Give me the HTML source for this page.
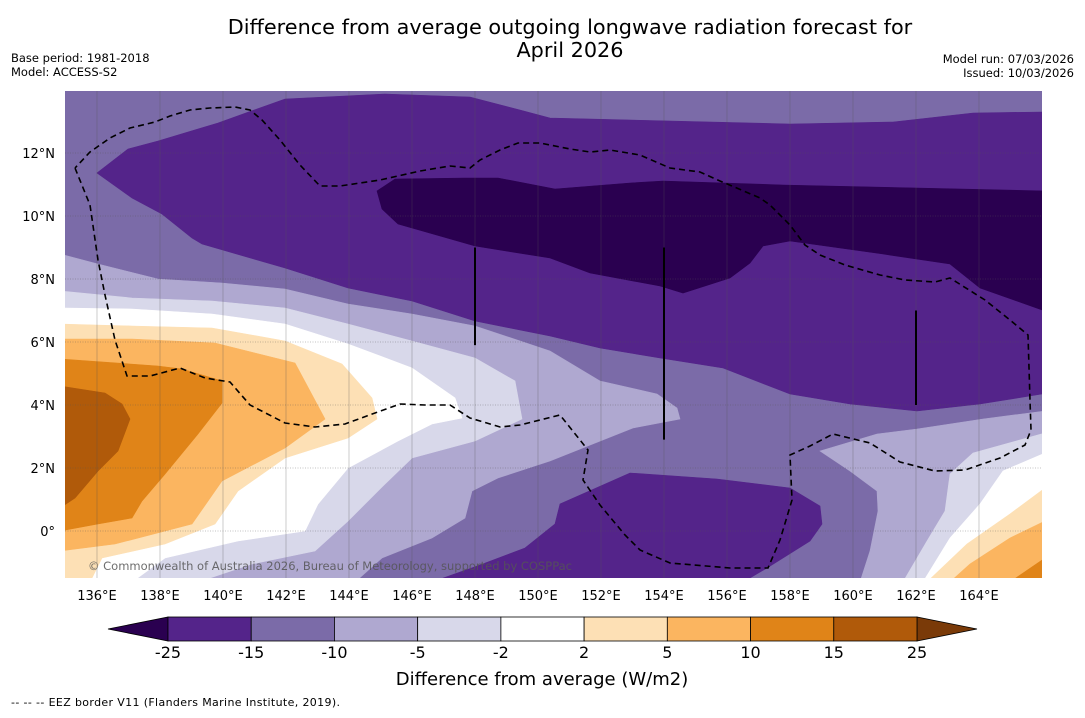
<!DOCTYPE html>
<html><head><meta charset="utf-8"><style>
html,body{margin:0;padding:0;background:#fff;}
body{width:1085px;height:713px;overflow:hidden;font-family:"Liberation Sans","DejaVu Sans",sans-serif;}
svg text{font-family:"DejaVu Sans","Liberation Sans",sans-serif;}
</style></head><body>
<svg id="chart" width="1085" height="713" viewBox="0 0 1085 713" xmlns="http://www.w3.org/2000/svg">
<text x="570" y="34" font-size="20.8" text-anchor="middle" fill="#000">Difference from average outgoing longwave radiation forecast for</text>
<text x="570" y="57" font-size="20.8" text-anchor="middle" fill="#000">April 2026</text>
<text x="11" y="62" font-size="11.5">Base period: 1981-2018</text>
<text x="11" y="76" font-size="11.5">Model: ACCESS-S2</text>
<text x="1074" y="63" font-size="11.5" text-anchor="end">Model run: 07/03/2026</text>
<text x="1074" y="77" font-size="11.5" text-anchor="end">Issued: 10/03/2026</text>
<defs><clipPath id="pc"><rect x="65" y="91" width="977" height="487"/></clipPath></defs>
<g id="plot" clip-path="url(#pc)"></g>
<g id="axes"></g>
<g id="cbar"></g>
<text x="542" y="685" font-size="18" text-anchor="middle">Difference from average (W/m2)</text>
<text x="11" y="706" font-size="11" textLength="329">--  --  -- EEZ border V11 (Flanders Marine Institute, 2019).</text>
</svg>
<script>
// axis ranges
const lonTicks = [136,138,140,142,144,146,148,150,152,154,156,158,160,162,164];
const latTicks = [0,2,4,6,8,10,12];
const levels = [-25,-15,-10,-5,-2,2,5,10,15,25];
const levelColors = ['#54248a','#7b6ba8','#afa8d0','#d8d8ea','#ffffff','#fde0b5','#fbb560','#e08418','#b05a0a'];
const underColor = '#2a0050', overColor = '#7a3a08';
// digitized contour regions (image-space vertices converted to lon/lat below)
const regionBase = [[65,91],[1042,91],[1042,578],[65,578]];
const regionLe15Top = [[97,173],[128,149],[158,141],[218,123],[285,99],[385,94],[470,97],[520,110],[550,118],[790,124],[893,122],[973,113],[1042,112],[1045,112],[1045,394],[1042,394],[980,404],[917,411],[850,404],[790,394],[723,368],[660,358],[600,348],[550,336],[475,321],[412,301],[348,288],[285,268],[202,244],[192,238],[162,214],[132,198]];
const regionLe15Bottom = [[432,582],[480,565],[525,548],[555,524],[560,504],[630,473],[717,479],[790,488],[820,506],[822,524],[810,541],[767,568],[743,582]];
const regionLe25 = [[377,191],[395,179],[465,178],[498,178],[555,189],[630,183],[663,181],[783,185],[917,188],[1045,191],[1045,311],[980,288],[950,264],[883,254],[790,241],[763,246],[750,263],[730,278],[683,293],[660,286],[590,273],[550,258],[475,246],[398,224],[382,209]];
const regionGe10Left = [[60,254],[98,264],[158,279],[222,283],[285,289],[348,304],[412,314],[475,326],[550,351],[600,381],[657,394],[677,408],[680,419],[633,428],[550,461],[498,478],[472,491],[465,518],[432,538],[382,558],[355,582],[60,582]];
const regionGe10Right = [[820,451],[877,434],[917,429],[983,419],[1045,411],[1045,582],[860,582],[870,551],[878,511],[877,491],[850,471]];
const regionGe5Left = [[60,291],[132,298],[212,301],[285,308],[348,324],[412,341],[475,358],[515,381],[522,419],[475,441],[412,458],[385,484],[348,521],[315,551],[252,564],[198,582],[60,582]];
const regionGe5Right = [[1045,433],[973,453],[950,474],[945,511],[927,541],[903,582],[1045,582]];
const regionGe2Left = [[60,308],[132,309],[212,314],[285,324],[348,344],[412,368],[455,398],[462,418],[432,424],[398,441],[348,468],[318,504],[305,531],[238,541],[165,558],[132,582],[60,582]];
const regionGe2Right = [[1045,453],[1003,471],[980,504],[950,538],[923,582],[1045,582]];
const regionP2Left = [[60,324],[132,326],[212,328],[285,341],[342,364],[372,398],[377,419],[348,438],[285,458],[238,491],[215,524],[165,544],[102,558],[90,582],[60,582]];
const regionP2Right = [[1045,488],[1010,514],[967,544],[927,582],[1045,582]];
const regionP5Left = [[60,339],[132,339],[215,343],[295,363],[325,419],[285,448],[222,481],[192,524],[115,544],[60,551]];
const regionP5Right = [[1045,521],[1010,538],[970,564],[950,582],[1045,582]];
const regionP10Left = [[60,359],[158,366],[182,369],[222,381],[222,403],[198,434],[165,474],[142,501],[132,518],[98,524],[60,531]];
const regionP10Right = [[1045,558],[1010,582],[1045,582]];
const regionP15Left = [[60,386],[105,393],[122,404],[130,419],[118,451],[98,471],[75,498],[60,508]];
const eezBorder = [[75,168],[90,205],[98,260],[105,295],[115,340],[127,376],[150,376],[180,368],[205,378],[230,382],[250,405],[285,423],[315,427],[345,424],[375,413],[400,404],[425,405],[450,405],[470,418],[500,427],[520,425],[560,415],[580,440],[588,450],[583,480],[600,505],[625,535],[640,550],[670,563],[730,568],[768,568],[780,540],[792,500],[790,455],[810,446],[833,434],[870,443],[900,462],[935,471],[965,470],[1000,458],[1025,445],[1031,430],[1030,400],[1028,335],[1010,320],[985,300],[950,278],[935,282],[905,280],[880,275],[845,265],[820,255],[805,245],[790,225],[770,205],[760,198],[732,186],[720,181],[700,172],[670,168],[640,155],[610,150],[590,152],[570,149],[540,143],[518,143],[500,150],[480,160],[470,168],[450,166],[420,171],[380,180],[340,186],[320,186],[300,165],[280,140],[262,120],[250,110],[235,107],[210,108],[190,110],[170,116],[155,122],[130,128],[110,138],[90,152],[75,168]];
const stripeLines = [[148,9.0,5.9],[154,9.0,2.9],[162,7.0,4.0]];

const NS='http://www.w3.org/2000/svg';
const X0=65,X1=1042,Y0=91,Y1=578;
function xScale(lon){return 97+(lon-136)*31.5;}
function yScale(lat){return 531-lat*31.5;}
function toGeo(p){return [136+(p[0]-97)/31.5,(531-p[1])/31.5];}
function mk(tag,attrs,parent){const e=document.createElementNS(NS,tag);for(const k in attrs)e.setAttribute(k,attrs[k]);parent.appendChild(e);return e;}
function pathOf(pts,close){return pts.map(toGeo).map((g,i)=>(i?'L':'M')+xScale(g[0]).toFixed(1)+' '+yScale(g[1]).toFixed(1)).join(' ')+(close?'Z':'');}
const plot=document.getElementById('plot');
const fills=[[regionBase,'#7b6ba8','region-minus15-to-minus10'],[regionLe15Top,'#54248a','region-below-minus15-north'],[regionLe15Bottom,'#54248a','region-below-minus15-south'],[regionLe25,underColor,'region-below-minus25'],
[regionGe10Left,'#afa8d0','region-minus10-to-minus5-west'],[regionGe10Right,'#afa8d0','region-minus10-to-minus5-east'],[regionGe5Left,'#d8d8ea','region-minus5-to-minus2-west'],[regionGe5Right,'#d8d8ea','region-minus5-to-minus2-east'],
[regionGe2Left,'#ffffff','region-near-zero-west'],[regionGe2Right,'#ffffff','region-near-zero-east'],[regionP2Left,'#fde0b5','region-2-to-5-west'],[regionP2Right,'#fde0b5','region-2-to-5-east'],
[regionP5Left,'#fbb560','region-5-to-10-west'],[regionP5Right,'#fbb560','region-5-to-10-east'],[regionP10Left,'#e08418','region-10-to-15-west'],[regionP10Right,'#e08418','region-10-to-15-east'],[regionP15Left,'#b05a0a','region-15-to-25-west']];
fills.forEach(f=>{const e=mk('path',{d:pathOf(f[0],true),fill:f[1],stroke:f[1],'stroke-width':0.6},plot);

});
// gridlines
lonTicks.forEach(l=>{const e=mk('line',{x1:xScale(l),x2:xScale(l),y1:Y0,y2:Y1,stroke:'#555','stroke-width':0.6,'stroke-opacity':0.5},plot);

});
latTicks.forEach(l=>{const e=mk('line',{x1:X0,x2:X1,y1:yScale(l),y2:yScale(l),stroke:'#555','stroke-width':0.6,'stroke-dasharray':'1 1.5','stroke-opacity':0.7},plot);

});
stripeLines.forEach(s=>{const e=mk('line',{x1:xScale(s[0]),x2:xScale(s[0]),y1:yScale(s[1]),y2:yScale(s[2]),stroke:'#000','stroke-width':2},plot);

});
const eez=mk('path',{d:pathOf(eezBorder,false),fill:'none',stroke:'#000','stroke-width':1.6,'stroke-dasharray':'6 4'},plot);


const wm=mk('text',{x:88,y:570,'font-size':11.5,fill:'#555','fill-opacity':0.85,textLength:484},plot);
wm.textContent='© Commonwealth of Australia 2026, Bureau of Meteorology, supported by COSPPac';


// axis labels
const axes=document.getElementById('axes');
lonTicks.forEach(l=>{const t=mk('text',{x:xScale(l),y:600,'font-size':13,'text-anchor':'middle'},axes);t.textContent=l+'°E';

});
latTicks.forEach(l=>{const t=mk('text',{x:55,y:yScale(l)+5,'font-size':13,'text-anchor':'end'},axes);t.textContent=l===0?'0°':l+'°N';

});
// colorbar
const cb=document.getElementById('cbar');
const cbL=168,cbR=917,cbT=617,cbB=641,bw=(cbR-cbL)/levelColors.length;
const lt=mk('polygon',{points:`108,629 ${cbL},${cbT} ${cbL},${cbB}`,fill:underColor,stroke:'#000','stroke-width':0.8},cb);


const rt=mk('polygon',{points:`977,629 ${cbR},${cbT} ${cbR},${cbB}`,fill:overColor,stroke:'#000','stroke-width':0.8},cb);


levelColors.forEach((c,i)=>{const r=mk('rect',{x:cbL+i*bw,y:cbT,width:bw,height:cbB-cbT,fill:c,stroke:'#000','stroke-width':0.8},cb);

});
levels.forEach((v,i)=>{const t=mk('text',{x:cbL+i*bw,y:658,'font-size':16,'text-anchor':'middle'},cb);t.textContent=v;

});
</script>
</body></html>
